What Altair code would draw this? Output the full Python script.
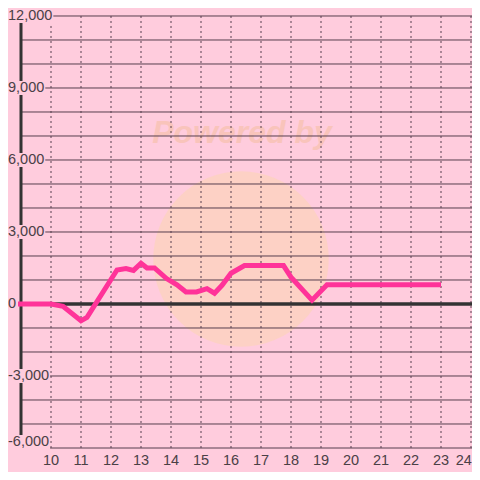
import altair as alt
import pandas as pd

# ---- data ----
hours = [8.9, 10.0, 10.4, 11.0, 11.2, 12.2, 12.5, 12.75, 13.0, 13.2, 13.45,
         13.85, 14.2, 14.5, 14.85, 15.2, 15.45, 15.7, 16.0, 16.45, 17.75,
         18.0, 18.7, 19.2, 23.0]
values = [0, 0, -100, -700, -560, 1420, 1480, 1400, 1700, 1500, 1500,
          1060, 800, 500, 500, 640, 450, 780, 1280, 1600, 1600,
          1120, 160, 800, 800]
y_grid = list(range(-6000, 12001, 1000))
y_ticks = [-6000, -3000, 0, 3000, 6000, 9000, 12000]
x_ticks = list(range(10, 25))
watermark = ["Powered by"]

BG = "#ffccdd"
GRID = "#573f4f"
AX = "#333333"
TXT = "#4a4046"
LINE = "#ff3399"
FONT = "Liberation Sans"

xs = alt.Scale(domain=[9, 24.033], nice=False, zero=False)
ys = alt.Scale(domain=[-6000, 12333], nice=False, zero=False)

line_df = pd.DataFrame({"h": hours, "v": values})
grid_df = pd.DataFrame({"v": y_grid})
xt_df = pd.DataFrame({"h": x_ticks})
yt_df = pd.DataFrame({"v": y_ticks})
wm_df = pd.DataFrame({"t": watermark})

circle = alt.Chart(wm_df).mark_circle(
    size=30800, color="#fcd2bf", opacity=0.8
).encode(x=alt.value(220), y=alt.value(251))

wm_text = alt.Chart(wm_df).mark_text(
    fontSize=32, fontWeight="bold", fontStyle="italic", font=FONT,
    color="#f9c4b8", opacity=0.9
).encode(x=alt.value(221), y=alt.value(125), text="t:N")

hgrid = alt.Chart(grid_df).mark_rule(color=GRID, strokeWidth=1).encode(
    y=alt.Y("v:Q", scale=ys, axis=None)
)

vgrid = alt.Chart(xt_df).mark_rule(
    color=GRID, strokeWidth=1, strokeDash=[2, 3]
).encode(
    x=alt.X("h:Q", scale=xs, axis=None),
    y=alt.datum(12000, scale=ys, axis=None),
    y2=alt.datum(-6000),
)

zero = alt.Chart(wm_df).mark_rule(color=AX, strokeWidth=3.5).encode(
    y=alt.datum(0, scale=ys, axis=None)
)

yaxis_line = alt.Chart(wm_df).mark_rule(color=AX, strokeWidth=3).encode(
    x=alt.datum(9, scale=xs, axis=None),
    y=alt.datum(12000, scale=ys, axis=None),
    y2=alt.datum(-6000),
)

line = alt.Chart(line_df).mark_line(
    color=LINE, strokeWidth=5, strokeJoin="miter", strokeCap="butt"
).encode(
    x=alt.X("h:Q", scale=xs, axis=None),
    y=alt.Y("v:Q", scale=ys, axis=None),
)

# y labels: pink box behind each label, then the label text
ylab = alt.Chart(yt_df).transform_calculate(
    lab="datum.v < 0 ? '-' + format(-datum.v, ',') : format(datum.v, ',')"
).transform_calculate(
    w="length(datum.lab) * 8.06 - (indexof(datum.lab, ',') >= 0 ? 4.03 : 0) - (datum.v < 0 ? 3.23 : 0)",
    xl="9 + (8 - 21) / 30",
    yc="datum.v == -6000 ? datum.v + 250 : datum.v",
).transform_calculate(
    x0="datum.xl - 2 / 30",
    x1="datum.xl + (datum.w + 1) / 30",
    y0="datum.yc - 292",
    y1="datum.yc + 292",
)

boxes = ylab.mark_rect(color=BG).encode(
    x=alt.X("x0:Q", scale=xs, axis=None),
    x2="x1:Q",
    y=alt.Y("y0:Q", scale=ys, axis=None),
    y2="y1:Q",
)

ytext = ylab.mark_text(
    align="left", baseline="middle", fontSize=14.5, font=FONT, color=TXT
).encode(
    x=alt.X("xl:Q", scale=xs, axis=None),
    y=alt.Y("yc:Q", scale=ys, axis=None),
    text="lab:N",
)

xtext = alt.Chart(xt_df).transform_calculate(
    xp="min(datum.h, 23.76)"
).mark_text(
    align="center", baseline="middle", fontSize=14.5, font=FONT, color=TXT,
    dy=13
).encode(
    x=alt.X("xp:Q", scale=xs, axis=None),
    y=alt.datum(-6000, scale=ys, axis=None),
    text=alt.Text("h:Q", format="d"),
)

chart = alt.layer(
    circle, wm_text, hgrid, vgrid, zero, yaxis_line, line, boxes, ytext, xtext
).properties(
    width=451, height=440,
    background=BG,
    padding={"left": 13, "top": 0, "right": 0, "bottom": 24},
    autosize=alt.AutoSizeParams(type="none"),
).configure_view(stroke=None)

chart.save("out.html", embed_options={"renderer": "svg", "actions": False})
